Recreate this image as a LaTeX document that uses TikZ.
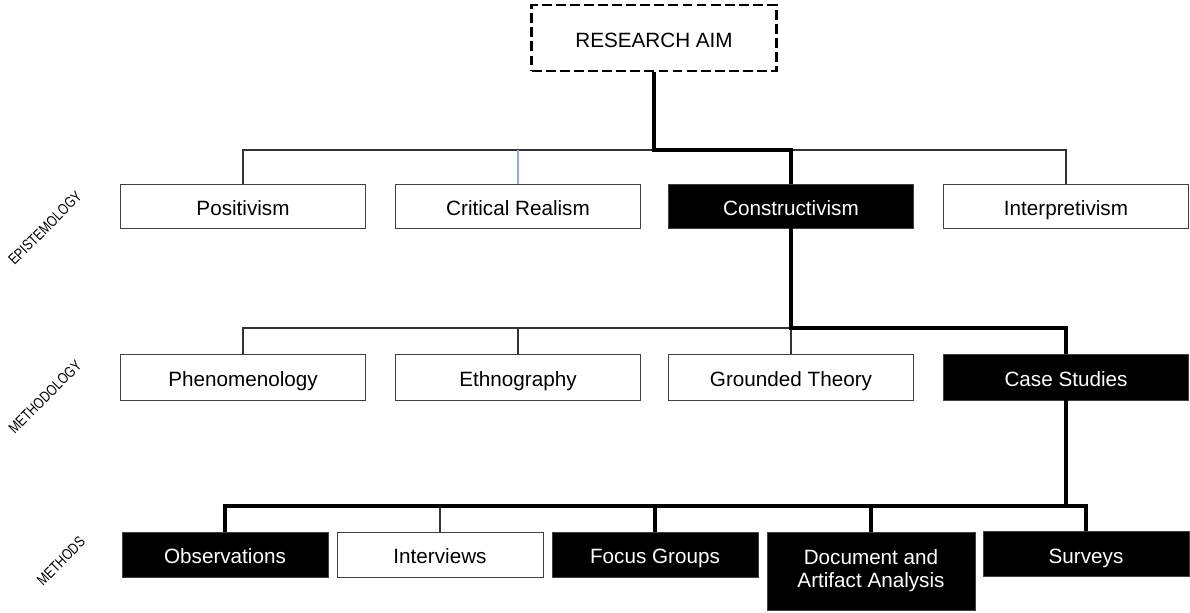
\documentclass[tikz,border=0pt]{standalone}
\usepackage{fontspec}
\setmainfont{Liberation Sans}
\definecolor{linkblue}{HTML}{8FAADC}
\begin{document}
\begin{tikzpicture}[x=0.025cm,y=-0.025cm,
  boxbase/.style={draw=black!75, line width=0.6pt, fill=white, inner sep=0pt,
    font=\fontsize{14.7}{16.5}\selectfont},
  box/.style={boxbase, minimum width=6.13cm, minimum height=1.1cm,
    text height=16pt, text depth=3pt},
  mbox/.style={box, minimum width=5.15cm, minimum height=1.125cm},
  docbox/.style={boxbase, minimum width=5.2cm, minimum height=1.95cm, align=center},
  dark/.style={fill=black, text=white},
  aimbox/.style={box, draw=black, line width=2.1pt, dash pattern=on 7pt off 3pt,
    minimum width=6.1cm, minimum height=1.65cm},
  lvl/.style={rotate=45, font=\fontsize{10.8}{12}\selectfont},
  thinline/.style={draw=black!80, line width=0.75pt},
  thickline/.style={draw=black, line width=2.2pt}]
\useasboundingbox (0,0) rectangle (1190,612);
\node[aimbox] (aim) at (654,38) {RESEARCH AIM};
\node[box] (posi) at (243,206) {Positivism};
\node[box] (crit) at (518,206) {Critical Realism};
\node[box,dark] (cons) at (791,206) {Constructivism};
\node[box] (inte) at (1066,206) {Interpretivism};
\node[box,minimum height=1.15cm] (phen) at (243,377) {Phenomenology};
\node[box,minimum height=1.15cm] (ethn) at (518,377) {Ethnography};
\node[box,minimum height=1.15cm] (grou) at (791,377) {Grounded Theory};
\node[box,dark,minimum height=1.15cm] (case) at (1066,377) {Case Studies};
\node[mbox,dark] (obse) at (225,554.5) {Observations};
\node[mbox] (intv) at (440,554.5) {Interviews};
\node[mbox,dark] (focu) at (655,554.5) {Focus Groups};
\node[docbox,dark] (docu) at (871,571) {Document and\\Artifact Analysis};
\node[mbox,dark] (surv) at (1086,554) {Surveys};
\node[lvl] (epis) at (45,228) {\scalebox{0.8}[1]{EPISTEMOLOGY}};
\node[lvl] (meth) at (45,397) {\scalebox{0.8}[1]{METHODOLOGY}};
\node[lvl] (mtds) at (61,561) {\scalebox{0.8}[1]{METHODS}};
\coordinate (ebar) at (0,150);
\coordinate (mbar) at (0,328);
\coordinate (sbar) at (0,506);
\draw[thinline] (posi.north) -- (posi.north |- ebar) -| (inte.north);
\draw[thinline,draw=linkblue] (crit.north) -- (crit.north |- ebar);
\draw[thickline] (aim.south) -- (aim.south |- ebar) -| (cons.north);
\draw[thinline] (phen.north) -- (phen.north |- mbar) -| (case.north);
\draw[thinline] (ethn.north) -- (ethn.north |- mbar);
\draw[thinline] (grou.north) -- (grou.north |- mbar);
\draw[thickline] (cons.south) -- (cons.south |- mbar) -| (case.north);
\draw[thinline] (intv.north) -- (intv.north |- sbar);
\draw[thickline] (case.south) -- (case.south |- sbar);
\draw[thickline] (obse.north) -- (obse.north |- sbar) -| (surv.north);
\draw[thickline] (focu.north) -- (focu.north |- sbar);
\draw[thickline] (docu.north) -- (docu.north |- sbar);
\end{tikzpicture}
\end{document}
